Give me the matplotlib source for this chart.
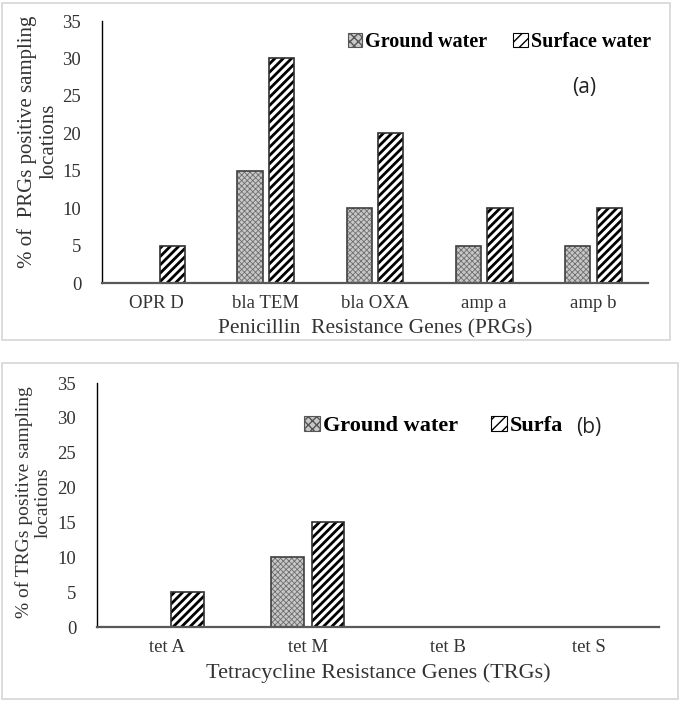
import numpy as np
import matplotlib.pyplot as plt
from matplotlib.patches import Rectangle, Patch

# Data
prg_genes = ["OPR D", "bla TEM", "bla OXA", "amp a", "amp b"]
prg_ground = [0, 15, 10, 5, 5]
prg_surface = [5, 30, 20, 10, 10]

trg_genes = ["tet A", "tet M", "tet B", "tet S"]
trg_ground = [0, 10, 0, 0]
trg_surface = [5, 15, 0, 0]

# legend text as shown; in panel (b) the entry is cut off by the "(b)" tag
series_a = ["Ground water", "Surface water"]
series_b = ["Ground water", "Surfa"]

plt.rcParams['font.family'] = ['Liberation Serif', 'DejaVu Serif']

W, H = 685, 706
fig = plt.figure(figsize=(W / 100, H / 100), dpi=100)


def fig_rect(x0, y0, x1, y1):
    # pixel box -> figure fraction [left, bottom, width, height]
    return [x0 / W, 1 - y1 / H, (x1 - x0) / W, (y1 - y0) / H]


# light grey frames round each panel
for box in [(2, 3, 670, 340), (2, 363, 678, 699)]:
    l, b, w, h = fig_rect(*box)
    fig.patches.append(Rectangle((l, b), w, h, transform=fig.transFigure,
                                 fill=False, edgecolor="#d9d9d9", lw=1.3))

bw = 0.23
ground_style = dict(facecolor="#c8c8c8", hatch="xxxxxx", edgecolor="#6e6e6e")
surface_style = dict(facecolor="white", hatch="////", edgecolor="black")


def draw_panel(ax, genes, ground, surface, ylabel, xlabel, ylsize, xlsize):
    x = np.arange(len(genes))
    with plt.rc_context({'hatch.linewidth': 0.6}):
        ax.bar(x - 0.145, ground, bw, lw=0, **ground_style)
    with plt.rc_context({'hatch.linewidth': 2.0}):
        ax.bar(x + 0.145, surface, bw, lw=0, **surface_style)
    # outlines
    ax.bar(x - 0.145, ground, bw, fill=False, edgecolor="#404040", lw=1.2)
    ax.bar(x + 0.145, surface, bw, fill=False, edgecolor="#303030", lw=1.2)

    ax.set_xlim(-0.5, len(genes) - 0.5)
    ax.set_ylim(0, 35)
    ax.set_yticks(np.arange(0, 36, 5))
    ax.set_xticks(x)
    ax.set_xticklabels(genes)
    ax.tick_params(axis='y', length=0, pad=15, labelsize=13.5, labelcolor="#333333")
    ax.tick_params(axis='x', length=0, pad=9, labelsize=13.5, labelcolor="#333333")
    for s in ["top", "right"]:
        ax.spines[s].set_visible(False)
    ax.spines["left"].set_color("black")
    ax.spines["left"].set_linewidth(1.0)
    ax.spines["bottom"].set_color("#595959")
    ax.spines["bottom"].set_linewidth(1.6)
    ax.set_ylabel(ylabel, fontsize=ylsize, color="#333333", linespacing=1.15)
    ax.set_xlabel(xlabel, fontsize=xlsize, color="#333333", labelpad=5)


# (a) Penicillin resistance genes
ax1 = fig.add_axes(fig_rect(102, 21, 648, 283))
draw_panel(ax1, prg_genes, prg_ground, prg_surface,
           "% of  PRGs positive sampling\nlocations",
           "Penicillin  Resistance Genes (PRGs)", 15, 15.5)
ax1.yaxis.set_label_coords(-0.08, 0.54)

# (b) Tetracycline resistance genes
ax2 = fig.add_axes(fig_rect(97, 383, 659, 627))
draw_panel(ax2, trg_genes, trg_ground, trg_surface,
           "% of TRGs positive sampling\nlocations",
           "Tetracycline Resistance Genes (TRGs)", 14, 16)
ax2.yaxis.set_label_coords(-0.08, 0.51)


def legend_handles():
    with plt.rc_context({'hatch.linewidth': 0.6}):
        h1 = Patch(facecolor="#c8c8c8", hatch="xxxx", edgecolor="#555555", lw=0.8)
    with plt.rc_context({'hatch.linewidth': 1.5}):
        h2 = Patch(facecolor="white", hatch="///", edgecolor="black", lw=0.8)
    return [h1, h2]


for labels, fx, fy, fs, cs in [(series_a, 348, 42, 14.5, 1.3),
                               (series_b, 304, 426, 16, 1.5)]:
    fig.legend(legend_handles(), labels, loc="center left",
               bbox_to_anchor=(fx / W, 1 - fy / H), ncol=2, frameon=False,
               prop={'weight': 'bold', 'size': fs}, handlelength=0.7,
               handleheight=0.7, handletextpad=0.15, columnspacing=cs,
               borderpad=0, borderaxespad=0)

# panel tags
fig.text(584 / W, 1 - 88 / H, "(a)", fontsize=15, family="Open Sans",
         ha="center", va="center", color="#222222")
fig.text(589 / W, 1 - 427 / H, "(b)", fontsize=15, family="Open Sans",
         ha="center", va="center", color="#222222")

fig.savefig("out.png", dpi=100)
